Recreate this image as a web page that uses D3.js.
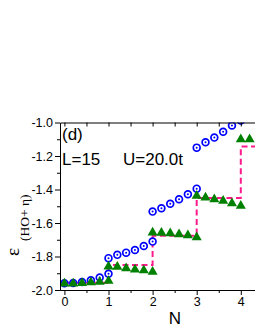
<!DOCTYPE html>
<html>
<head>
<meta charset="utf-8">
<script src="https://cdn.jsdelivr.net/npm/d3@7"></script>
<style>
  body { margin: 0; background: #fff; }
  text { font-family: "Liberation Sans", Arial, sans-serif; }
</style>
</head>
<body>
<svg id="chart" width="255" height="330"></svg>
<script>
// segment start (N) and the eta offsets inside every segment
const segStart = [0, 1, 2, 3, 4];
const etaSteps = [0, 0.2, 0.4, 0.6, 0.8, 1.0];

// blue open circles, one list per segment
const circleE = [
  [-1.960, -1.958, -1.952, -1.942, -1.925, -1.903],
  [-1.810, -1.790, -1.777, -1.761, -1.737, -1.711],
  [-1.532, -1.512, -1.485, -1.458, -1.428, -1.395],
  [-1.150, -1.118, -1.090, -1.055, -1.018, -0.988]
];

// green triangles, one list per segment
const triangleE = [
  [-1.962, -1.962, -1.958, -1.955, -1.952, -1.946],
  [-1.860, -1.862, -1.870, -1.878, -1.882, -1.892],
  [-1.657, -1.658, -1.662, -1.667, -1.673, -1.685],
  [-1.438, -1.448, -1.458, -1.468, -1.482, -1.498],
  [-1.100, -1.100]
];

// magenta dashed step line
const stepN = [0, 1, 1, 2, 2, 3, 3, 4, 4, 4.4];
const stepE = [-1.957, -1.957, -1.850, -1.850, -1.676, -1.676, -1.450, -1.450, -1.143, -1.143];

const xMajor = [0, 1, 2, 3, 4];
const xMinor = [0.5, 1.5, 2.5, 3.5];
const yMajor = [-2.0, -1.8, -1.6, -1.4, -1.2, -1.0];
const yMinor = [-1.9, -1.7, -1.5, -1.3, -1.1];

const svg = d3.select('#chart');

const plotLeft = 60, plotRight = 256, plotTop = 122.5, plotBottom = 290;

const x = d3.scaleLinear().domain([-0.1, 4.345]).range([plotLeft, plotRight]);
const y = d3.scaleLinear().domain([-2.0, -1.0]).range([plotBottom, plotTop]);

const toPoints = (series) => series.flatMap((seg, i) =>
  seg.map((e, j) => ({ n: segStart[i] + etaSteps[j], e: e })));

const circles = toPoints(circleE);
const triangles = toPoints(triangleE);
const steps = stepN.map((n, i) => ({ n: n, e: stepE[i] }));

svg.append('clipPath')
  .attr('id', 'plot-clip')
  .append('rect')
  .attr('x', plotLeft)
  .attr('y', plotTop)
  .attr('width', plotRight - plotLeft)
  .attr('height', plotBottom - plotTop);

let plot = svg.append('g').attr('clip-path', 'url(#plot-clip)');

plot.append('path')
  .datum(steps)
  .attr('fill', 'none')
  .attr('stroke', '#ff1a8c')
  .attr('stroke-width', 2)
  .attr('stroke-dasharray', '6,3.5')
  .attr('d', d3.line().x((d) => x(d.n)).y((d) => y(d.e)));

let circleGroup = plot.append('g')
  .selectAll('g')
  .data(circles)
  .join('g')
  .attr('transform', (d) => `translate(${x(d.n)},${y(d.e)})`);

circleGroup.append('circle')
  .attr('r', 3.4)
  .attr('fill', '#fff')
  .attr('stroke', '#0000ff')
  .attr('stroke-width', 1.7);

circleGroup.append('circle')
  .attr('r', 1)
  .attr('fill', '#0000ff');

plot.append('g')
  .selectAll('path')
  .data(triangles)
  .join('path')
  .attr('transform', (d) => `translate(${x(d.n)},${y(d.e)})`)
  .attr('fill', '#008000')
  .attr('d', d3.symbol(d3.symbolTriangle, 44));

// axes
const styleAxis = (g) => {
  g.selectAll('path, line').attr('stroke', '#000').attr('stroke-width', 1);
  g.selectAll('text')
    .attr('fill', '#000')
    .style('font-family', '"Liberation Sans", Arial, sans-serif')
    .style('font-size', '12.5px');
};

svg.append('g')
  .attr('transform', `translate(0,${plotBottom})`)
  .call(d3.axisBottom(x).tickValues(xMajor).tickSize(5).tickSizeOuter(0).tickPadding(2)
    .tickFormat(d3.format('d')))
  .call(styleAxis);

svg.append('g')
  .attr('transform', `translate(0,${plotBottom})`)
  .call(d3.axisBottom(x).tickValues(xMinor).tickSize(3).tickSizeOuter(0).tickFormat(''))
  .call(styleAxis);

svg.append('g')
  .attr('transform', `translate(0,${plotTop})`)
  .call(d3.axisBottom(x).tickValues(xMajor.concat(xMinor)).tickSize(4).tickSizeOuter(0).tickFormat(''))
  .call(styleAxis);

svg.append('g')
  .attr('transform', `translate(${plotLeft},0)`)
  .call(d3.axisLeft(y).tickValues(yMajor).tickSize(5).tickSizeOuter(0).tickPadding(2)
    .tickFormat((d) => d.toFixed(1)))
  .call(styleAxis);

svg.append('g')
  .attr('transform', `translate(${plotLeft},0)`)
  .call(d3.axisLeft(y).tickValues(yMinor).tickSize(3).tickSizeOuter(0).tickFormat(''))
  .call(styleAxis);

// labels
svg.append('text')
  .attr('x', 175)
  .attr('y', 324)
  .attr('text-anchor', 'middle')
  .style('font-size', '17px')
  .text('N');

svg.append('text')
  .attr('transform', 'translate(19,256) rotate(-90)')
  .style('font-family', '"Liberation Serif", serif')
  .style('font-size', '19px')
  .text('ε');

svg.append('text')
  .attr('transform', 'translate(29,241) rotate(-90)')
  .style('font-family', '"Liberation Serif", serif')
  .style('font-size', '13.5px')
  .text('(HO+ η)');

svg.append('text')
  .attr('x', 62)
  .attr('y', 140)
  .style('font-size', '17px')
  .text('(d)');

svg.append('text')
  .attr('x', 62)
  .attr('y', 165)
  .style('font-size', '17px')
  .text('L=15');

svg.append('text')
  .attr('x', 123)
  .attr('y', 165)
  .style('font-size', '17px')
  .text('U=20.0t');
</script>
</body>
</html>
